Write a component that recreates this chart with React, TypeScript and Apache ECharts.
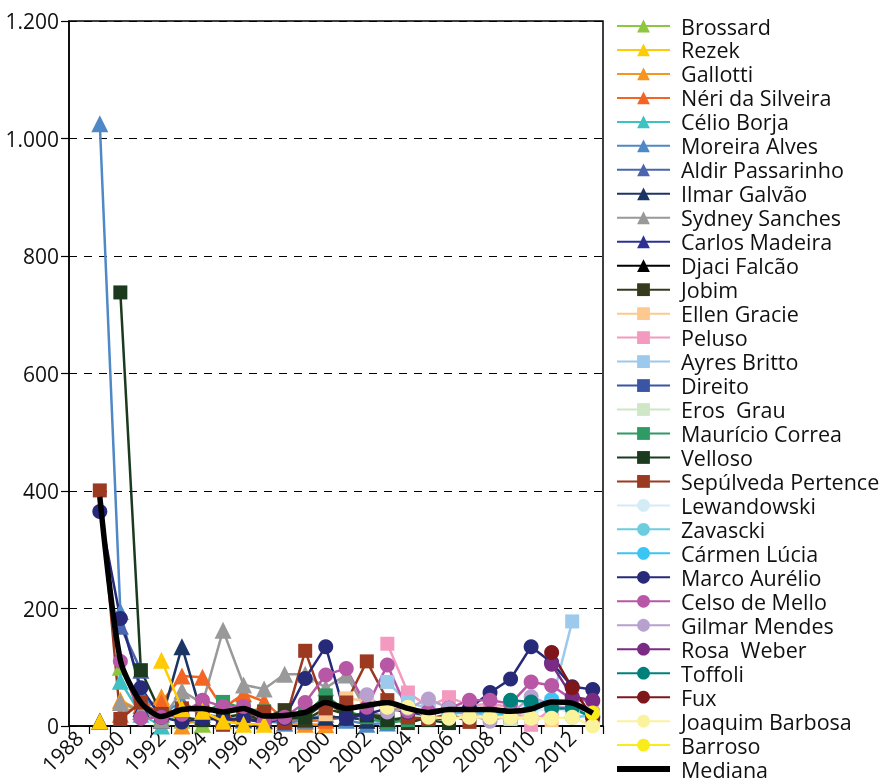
import React, { useEffect, useRef } from 'react';
import * as echarts from 'echarts';

const years = ['1988','1989','1990','1991','1992','1993','1994','1995','1996','1997','1998','1999','2000','2001','2002','2003','2004','2005','2006','2007','2008','2009','2010','2011','2012','2013'];
const yTicks = { min: 0, max: 1200, interval: 200 };

// each series: first year, then values year by year
const brossard = [100, 25, 15, 10, 3];
const rezek = [8, null, null, 112, 30, 25, 8, 3, 3];
const gallotti = [44, 25, 50, 0, 15, 10, 15, 10, 5, 3, 2];
const neri = [20, 35, 40, 85, 83, 30, 55, 42, 10, 8, 10, 15, 10];
const celioBorja = [76, 20, 0];
const moreiraAlves = [1025, 195, 55, 20, 42, 20, 15, 10, 8, 5, 10, 20, 10, 3, 5];
const aldirPassarinho = [170, 95];
const ilmarGalvao = [30, 10, 135, 15, 10, 12, 10, 15, 12, 15, 15, 10, 10];
const sydneySanches = [40, 25, 10, 60, 38, 163, 70, 63, 88, 88, 65, 87, 25, 15];
const carlosMadeira = [8];
const djaciFalcao = [8];
const jobim = [15, 27, 10, 30, 20, 20, 15, 5, 15, 10];
const ellenGracie = [20, 47, 43, 35, 30, 25, 25, 20, 20, 15, 20, 10];
const peluso = [140, 57, 33, 49, 35, 38, 32, 2, 30, 25];
const ayresBritto = [75, 40, 30, 25, 20, 20, 20, 25, 40, 178];
const direito = [20, 15, 15];
const erosGrau = [20, 15, 15, 20, 15, 12, 15];
const mauricioCorrea = [20, 41, 30, 25, 10, 20, 52, 25, 15, 5, 10];
const velloso = [738, 95, 20, 15, 10, 15, 20, 10, 12, 15, 40, 20, 18, 10, 15, 10, 5];
const sepulveda = [401, 12, 40, 20, 30, 25, 2, 15, 24, 5, 128, 30, 40, 110, 44, 15, 12, 20, 7];
const lewandowski = [25, 30, 20, 20, 25, 30, 25, 20];
const zavascki = [15, 18];
const carmenLucia = [20, 25, 20, 20, 35, 45, 35, 10];
const marcoAurelio = [365, 183, 65, 15, 7, 13, 10, 13, 5, 13, 81, 135, 13, 20, 30, 24, 18, 30, 30, 57, 80, 135, 108, 67, 62];
const celsoDeMello = [110, 13, 15, 20, 44, 33, 33, 7, 15, 40, 87, 98, 32, 104, 25, 25, 30, 44, 44, 38, 75, 69, 45, 42];
const gilmarMendes = [53, 24, 30, 46, 30, 20, 8, 20, 50, 35, 30, 25];
const rosaWeber = [105, 50, 44];
const toffoli = [44, 41, 30, 30, 15];
const fux = [125, 65, 15];
const joaquimBarbosa = [32, 32, 15, 13, 15, 15, 15, 13, 13, 15, 0];
const barroso = [22];
const mediana = [390, 112, 40, 16, 28, 30, 24, 30, 17, 18, 23, 40, 30, 35, 40, 30, 23, 28, 28, 28, 25, 29, 41, 39, 22];

type Def = { name: string; start: number; values: (number | null)[]; color: string; symbol: string; z?: number };

const defs: Def[] = [
  { name: 'Brossard', start: 1990, values: brossard, color: '#8DC63F', symbol: 'triangle' },
  { name: 'Rezek', start: 1989, values: rezek, color: '#FFCB05', symbol: 'triangle', z: 3 },
  { name: 'Gallotti', start: 1990, values: gallotti, color: '#F7941D', symbol: 'triangle' },
  { name: 'Néri da Silveira', start: 1990, values: neri, color: '#F26522', symbol: 'triangle' },
  { name: 'Célio Borja', start: 1990, values: celioBorja, color: '#3EC1C3', symbol: 'triangle' },
  { name: 'Moreira Alves', start: 1989, values: moreiraAlves, color: '#4F88C6', symbol: 'triangle' },
  { name: 'Aldir Passarinho', start: 1990, values: aldirPassarinho, color: '#4A64AF', symbol: 'triangle' },
  { name: 'Ilmar Galvão', start: 1991, values: ilmarGalvao, color: '#1C3664', symbol: 'triangle' },
  { name: 'Sydney Sanches', start: 1990, values: sydneySanches, color: '#999999', symbol: 'triangle' },
  { name: 'Carlos Madeira', start: 1989, values: carlosMadeira, color: '#2E3192', symbol: 'triangle', z: 1 },
  { name: 'Djaci Falcão', start: 1989, values: djaciFalcao, color: '#000000', symbol: 'triangle', z: 1 },
  { name: 'Jobim', start: 1997, values: jobim, color: '#363A1C', symbol: 'rect' },
  { name: 'Ellen Gracie', start: 2000, values: ellenGracie, color: '#FDC98E', symbol: 'rect' },
  { name: 'Peluso', start: 2003, values: peluso, color: '#F49AC1', symbol: 'rect' },
  { name: 'Ayres Britto', start: 2003, values: ayresBritto, color: '#9DC9EC', symbol: 'rect' },
  { name: 'Direito', start: 2007, values: direito, color: '#3A55A5', symbol: 'rect' },
  { name: 'Eros  Grau', start: 2004, values: erosGrau, color: '#CFE7C6', symbol: 'rect' },
  { name: 'Maurício Correa', start: 1994, values: mauricioCorrea, color: '#2E9A64', symbol: 'rect' },
  { name: 'Velloso', start: 1990, values: velloso, color: '#1B3A1E', symbol: 'rect' },
  { name: 'Sepúlveda Pertence', start: 1989, values: sepulveda, color: '#9B3A20', symbol: 'rect' },
  { name: 'Lewandowski', start: 2006, values: lewandowski, color: '#D4ECF5', symbol: 'circle' },
  { name: 'Zavascki', start: 2012, values: zavascki, color: '#6DCDDE', symbol: 'circle' },
  { name: 'Cármen Lúcia', start: 2006, values: carmenLucia, color: '#3BC5F3', symbol: 'circle' },
  { name: 'Marco Aurélio', start: 1989, values: marcoAurelio, color: '#262A78', symbol: 'circle' },
  { name: 'Celso de Mello', start: 1990, values: celsoDeMello, color: '#B857A6', symbol: 'circle' },
  { name: 'Gilmar Mendes', start: 2002, values: gilmarMendes, color: '#B9A1CF', symbol: 'circle' },
  { name: 'Rosa  Weber', start: 2011, values: rosaWeber, color: '#7B2B84', symbol: 'circle' },
  { name: 'Toffoli', start: 2009, values: toffoli, color: '#00807A', symbol: 'circle' },
  { name: 'Fux', start: 2011, values: fux, color: '#7F1619', symbol: 'circle' },
  { name: 'Joaquim Barbosa', start: 2003, values: joaquimBarbosa, color: '#FBF39C', symbol: 'circle' },
  { name: 'Barroso', start: 2013, values: barroso, color: '#F8EC1B', symbol: 'circle' },
];

const FONT = 'Open Sans';

function align(start: number, values: (number | null)[]) {
  const out: (number | null)[] = years.map(() => null);
  const offset = years.indexOf(String(start));
  values.forEach((v, i) => { out[offset + i] = v; });
  return out;
}

const symbolSizes: Record<string, number> = { triangle: 17, rect: 14, circle: 15 };

export default function App() {
  const ref = useRef<HTMLDivElement>(null);
  useEffect(() => {
    const chart = echarts.init(ref.current!, null, { renderer: 'svg' });
    const series: any[] = defs.map((d) => ({
      name: d.name,
      type: 'line',
      z: d.z ?? 2,
      data: align(d.start, d.values),
      symbol: d.symbol,
      symbolSize: symbolSizes[d.symbol],
      showAllSymbol: true,
      connectNulls: false,
      lineStyle: { color: d.color, width: 2.5 },
      itemStyle: { color: d.color },
      emphasis: { disabled: true },
    }));
    series.push({
      name: 'Mediana',
      type: 'line',
      data: align(1989, mediana),
      symbol: 'none',
      smooth: 0.25,
      lineStyle: { color: '#000', width: 5.5 },
      itemStyle: { color: '#000' },
      z: 5,
      emphasis: { disabled: true },
    });
    chart.setOption({
      animation: false,
      grid: { left: 69, right: 280, top: 21, bottom: 55, show: true, borderColor: '#000', borderWidth: 1.5, backgroundColor: 'transparent' },
      legend: {
        orient: 'vertical',
        left: 616,
        top: 15,
        height: 820,
        padding: 0,
        itemWidth: 53,
        itemHeight: 16,
        itemGap: 1.97,
        selectedMode: false,
        data: [
          ...defs.map((d) => d.name),
          { name: 'Mediana', icon: 'path://M0,0H53V6H0Z', itemStyle: { color: '#000' } },
        ],
        textStyle: { fontFamily: FONT, fontSize: 21.5, color: '#111', padding: [0, 0, 0, 6] },
      },
      xAxis: {
        type: 'category',
        data: years,
        boundaryGap: true,
        axisLine: { lineStyle: { color: '#000', width: 1.5 } },
        axisTick: { show: true, interval: 0, length: 8, lineStyle: { color: '#000', width: 1.2 } },
        axisLabel: { interval: 1, rotate: 45, fontFamily: FONT, fontSize: 21, color: '#111', margin: 8 },
        splitLine: { show: false },
      },
      yAxis: {
        type: 'value',
        min: yTicks.min,
        max: yTicks.max,
        interval: yTicks.interval,
        axisLine: { show: true, lineStyle: { color: '#000', width: 1.5 } },
        axisTick: { show: true, length: 8, lineStyle: { color: '#000', width: 1.2 } },
        axisLabel: {
          fontFamily: FONT, fontSize: 21, color: '#111', margin: 10,
          formatter: (v: number) => String(v).replace(/\B(?=(\d{3})+(?!\d))/g, '.'),
        },
        splitLine: { show: true, lineStyle: { color: '#000', type: [8, 7], width: 1.2 } },
      },
      series,
    });
    return () => chart.dispose();
  }, []);
  return <div ref={ref} style={{ position: 'fixed', left: 0, top: 0, width: 883, height: 781 }} />;
}
